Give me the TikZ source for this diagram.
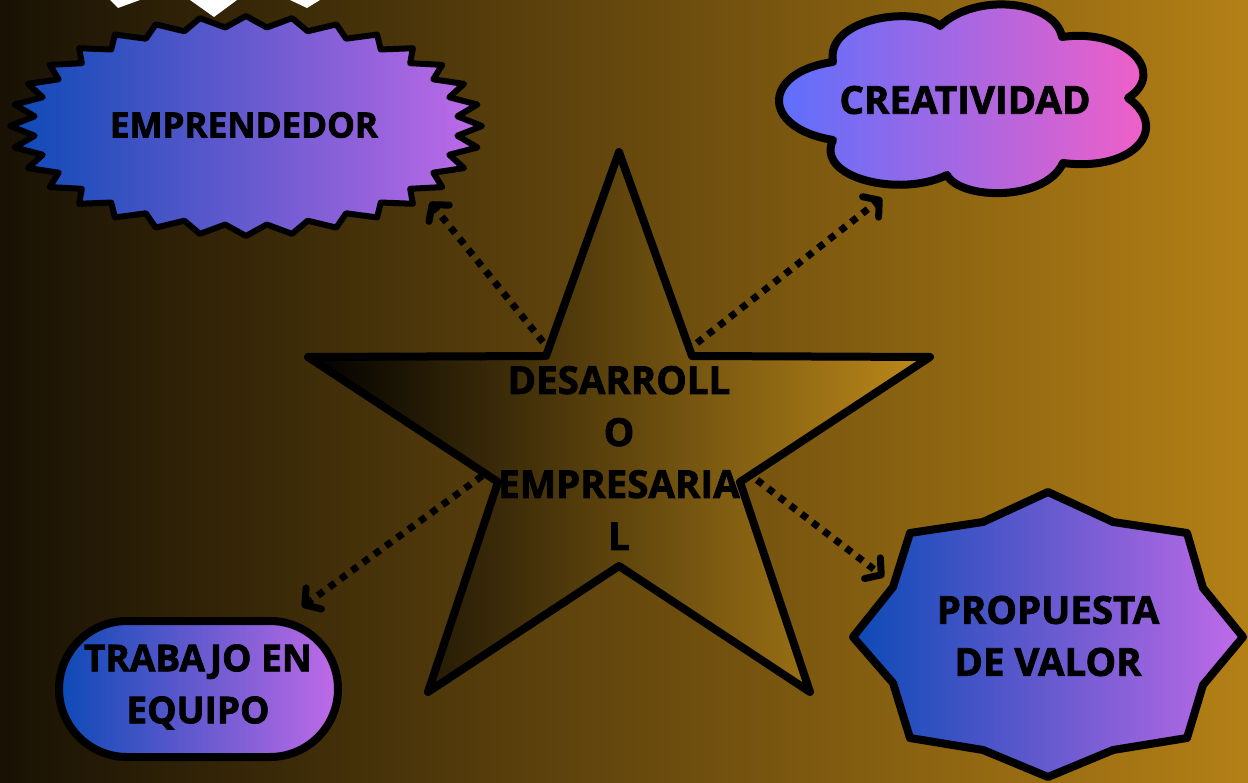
\documentclass[tikz,border=0pt]{standalone}
\usepackage{fontspec}
\setmainfont{Open Sans}[BoldFeatures={FakeBold=2}]
\usetikzlibrary{arrows.meta, positioning}

\definecolor{bgdark}{RGB}{24,17,4}
\definecolor{bggold}{RGB}{180,128,22}
\definecolor{blueleft}{RGB}{12,74,182}
\definecolor{violetright}{RGB}{192,106,232}
\definecolor{cloudleft}{RGB}{86,112,255}
\definecolor{cloudright}{RGB}{250,94,196}
\definecolor{stargold}{RGB}{190,138,26}

\tikzset{
    shape_line/.style={draw=black, line width=8pt, line join=round},
    blue_fill/.style={left color=blueleft, right color=violetright},
    cloud_fill/.style={left color=cloudleft, right color=cloudright},
    star_fill/.style={left color=black, right color=stargold},
    label_text/.style={font=\fontsize{38.5}{52}\selectfont\bfseries, text=black, align=center, inner sep=0pt},
    dotted_arrow/.style={line width=7pt, dash pattern=on 7pt off 7pt, -{Straight Barb[round, length=11pt, width=26pt]}},
}

\begin{document}
\begin{tikzpicture}[x=1pt, y=-1pt]
    %%%%%%%%%%%%%%
    % BACKGROUND %
    %%%%%%%%%%%%%%
    \shade[left color=bgdark, right color=bggold] (0,0) rectangle (1248,783);
    \useasboundingbox (0,0) rectangle (1248,783);
    \fill[white] (110,0) -- (118,8) -- (140,0) -- cycle
        (190,0) -- (214,17) -- (237,0) -- cycle
        (290,0) -- (307,8) -- (320,0) -- cycle;

    %%%%%%%%
    % STAR %
    %%%%%%%%
    \path[shape_line, star_fill] (619,152) -- (692,356) -- (930,357) -- (740,482)
        -- (810,692) -- (619,566) -- (428,692) -- (498,482) -- (308,357)
        -- (546,356) -- cycle;
    \node (desarrollo) [label_text] at (619,458)
        {DESARROLL\\O\\EMPRESARIA\\L};

    %%%%%%%%%%%%%%%
    % EMPRENDEDOR %
    %%%%%%%%%%%%%%%
    \path[shape_line, blue_fill, line width=6pt] plot[samples at={0,...,63}]
        ({246+(1-0.1*mod(\x,2))*236*cos(\x*5.625)}, {126+(1-0.1*mod(\x,2))*110*sin(\x*5.625)}) -- cycle;
    \node (emprendedor) [label_text, font=\fontsize{35}{52}\selectfont\bfseries] at (244,125)
        {EMPRENDEDOR};

    %%%%%%%%%%%%%%%
    % CREATIVIDAD %
    %%%%%%%%%%%%%%%
    \path[shape_line, cloud_fill] (833,62) .. controls (825,18) and (915,5) .. (940,26)
        .. controls (975,-8) and (1055,0) .. (1062,37)
        .. controls (1125,28) and (1168,72) .. (1128,98)
        .. controls (1170,128) and (1135,172) .. (1063,163)
        .. controls (1045,202) and (960,200) .. (947,175)
        .. controls (900,198) and (815,178) .. (833,140)
        .. controls (760,128) and (762,72) .. (833,62) -- cycle;
    \node (creatividad) [label_text] at (965,100)
        {CREATIVIDAD};

    %%%%%%%%%%%
    % TRABAJO %
    %%%%%%%%%%%
    \path[shape_line, blue_fill, rounded corners=68pt] (59,621) rectangle (338,757);
    \node (trabajo) [label_text, font=\fontsize{37}{52}\selectfont\bfseries] at (198,687)
        {TRABAJO EN\\EQUIPO};

    %%%%%%%%%%%%%
    % PROPUESTA %
    %%%%%%%%%%%%%
    \path[shape_line, blue_fill] (1048,492) -- (1113,522) -- (1187,533) -- (1203,588)
        -- (1243,637) -- (1203,685) -- (1187,738) -- (1113,750) -- (1048,777)
        -- (983,750) -- (910,738) -- (893,683) -- (853,637) -- (893,587)
        -- (910,533) -- (983,522) -- cycle;
    \node (propuesta) [label_text] at (1048,636)
        {PROPUESTA\\DE VALOR};

    %%%%%%%%%%
    % ARROWS %
    %%%%%%%%%%
    \coordinate (star_nw) at (543,342);
    \coordinate (star_ne) at (697,343);
    \coordinate (star_sw) at (482,476);
    \coordinate (star_se) at (757,480);
    \coordinate (emprendedor_in) at (430,202);
    \coordinate (creatividad_in) at (882,198);
    \coordinate (trabajo_in) at (302,607);
    \coordinate (propuesta_in) at (884,577);
    \draw[dotted_arrow] (star_nw) -- (emprendedor_in);
    \draw[dotted_arrow] (star_ne) -- (creatividad_in);
    \draw[dotted_arrow] (star_sw) -- (trabajo_in);
    \draw[dotted_arrow] (star_se) -- (propuesta_in);
\end{tikzpicture}
\end{document}
